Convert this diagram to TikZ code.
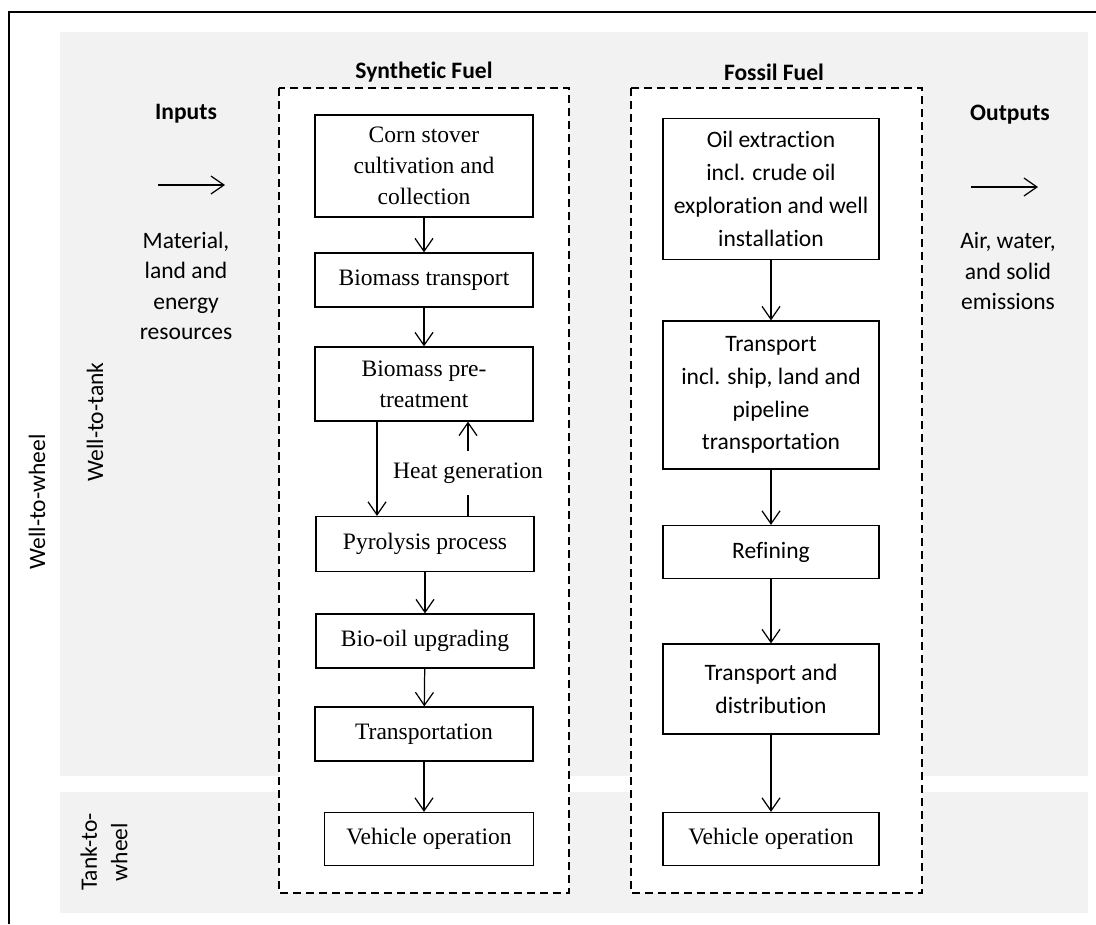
\documentclass[tikz,border=0pt]{standalone}
\usepackage{fontspec}
\setmainfont{Liberation Serif}
\newfontfamily\calibri[Ligatures=NoCommon]{Carlito}
\usepackage{xcolor}
\usepackage{tikz}
\usetikzlibrary{arrows.meta,positioning}
\definecolor{bandgray}{HTML}{F2F2F2}

\begin{document}
\begin{tikzpicture}[x=0.02cm, y=-0.02cm,
                    >={Straight Barb[length=0.26cm,width=0.36cm]},
                    proc/.style={draw, rectangle, line width=0.7pt, fill=white, text centered, align=center, inner sep=0pt, minimum width=4.36cm, font=\fontsize{13.4}{17.8}\selectfont},
                    fproc/.style={proc, minimum width=4.32cm, font=\calibri\fontsize{13.4}{18.7}\selectfont},
                    head/.style={font=\calibri\bfseries\fontsize{13.4}{16}\selectfont},
                    sidetext/.style={align=center, font=\calibri\fontsize{13.4}{17.3}\selectfont},
                    stage/.style={draw, dash pattern=on 0.16cm off 0.1cm, line width=1pt, fill=white},
                    flow/.style={->, line width=0.7pt}]
                        \useasboundingbox (0,0) rectangle (1096,924);
                        \fill[bandgray] (60,32) rectangle (1088,776);
                        \fill[bandgray] (60,792) rectangle (1088,913);
                        \draw[line width=1.1pt] (9,924) -- (9,12) -- (1096,12);
                        \draw[stage] (279,88) rectangle (569,893);
                        \draw[stage] (631,88) rectangle (922,893);
                        \node[head] (synth) at (424,72) {Synthetic Fuel};
                        \node[head] (fossil) at (774,72) {Fossil Fuel};
                        \node[head] (inputs) at (186,114) {Inputs};
                        \node[head] (outputs) at (1010,115) {Outputs};
                        \coordinate (in1) at (158,185);
                        \coordinate (in2) at (225,185);
                        \coordinate (out1) at (971,187);
                        \coordinate (out2) at (1038,187);
                        \draw[flow] (in1) -- (in2);
                        \draw[flow] (out1) -- (out2);
                        \node[sidetext] (material) at (186,286) {Material,\\land and\\energy\\resources};
                        \node[sidetext] (emissions) at (1008,271) {Air, water,\\and solid\\emissions};
                        \node[sidetext, rotate=90] (wtw) at (37,502) {Well-to-wheel};
                        \node[sidetext, rotate=90] (wtt) at (95,422) {Well-to-tank};
                        \node[sidetext, rotate=90] (ttw) at (104,852) {Tank-to-\\wheel};
                        \node[proc, minimum height=2.04cm] (corn) at (424,166) {Corn stover\\cultivation and\\collection};
                        \node[proc, minimum height=1.08cm] (biotrans) at (424,280) {Biomass transport};
                        \node[proc, minimum height=1.48cm] (pretreat) at (424,384) {Biomass pre-\\treatment};
                        \node[proc, minimum height=1.1cm] (pyro) at (425,544) {Pyrolysis process};
                        \node[proc, minimum height=1.08cm] (upgrade) at (425,641) {Bio-oil upgrading};
                        \node[proc, minimum height=1.08cm] (transp) at (424,734) {Transportation};
                        \node[proc, minimum height=1.06cm, minimum width=4.18cm] (vehicle) at (429,839) {Vehicle operation};
                        \node[font=\fontsize{13.4}{16}\selectfont, inner xsep=0pt, inner ysep=0.22cm] (heat) at (468,473) {Heat generation};
                        \node[fproc, minimum height=2.82cm] (oil) at (771,189) {Oil extraction\\incl. crude oil\\exploration and well\\installation};
                        \node[fproc, minimum height=2.96cm] (ftrans) at (771,395) {Transport\\incl. ship, land and\\pipeline\\transportation};
                        \node[fproc, minimum height=1.06cm] (refine) at (771,552) {Refining};
                        \node[fproc, minimum height=1.8cm] (distrib) at (771,689) {Transport and\\distribution};
                        \node[proc, minimum height=1.06cm, minimum width=4.32cm] (fvehicle) at (771,839) {Vehicle operation};
                        \draw[flow] (corn) -- (biotrans);
                        \draw[flow] (biotrans) -- (pretreat);
                        \draw[flow] ([xshift=-0.94cm]pretreat.south) -- ([xshift=-0.94cm]pretreat.south |- pyro.north);
                        \draw[flow] (heat) -- (heat |- pretreat.south);
                        \draw[line width=0.7pt] (pyro.north -| heat) -- (heat);
                        \draw[flow] (pyro) -- (upgrade);
                        \draw[flow] (upgrade) -- (transp);
                        \draw[flow] (transp.south) -- (transp.south |- vehicle.north);
                        \draw[flow] (oil) -- (ftrans);
                        \draw[flow] (ftrans) -- (refine);
                        \draw[flow] (refine) -- (distrib);
                        \draw[flow] (distrib) -- (fvehicle);
                        \end{tikzpicture}
\end{document}
